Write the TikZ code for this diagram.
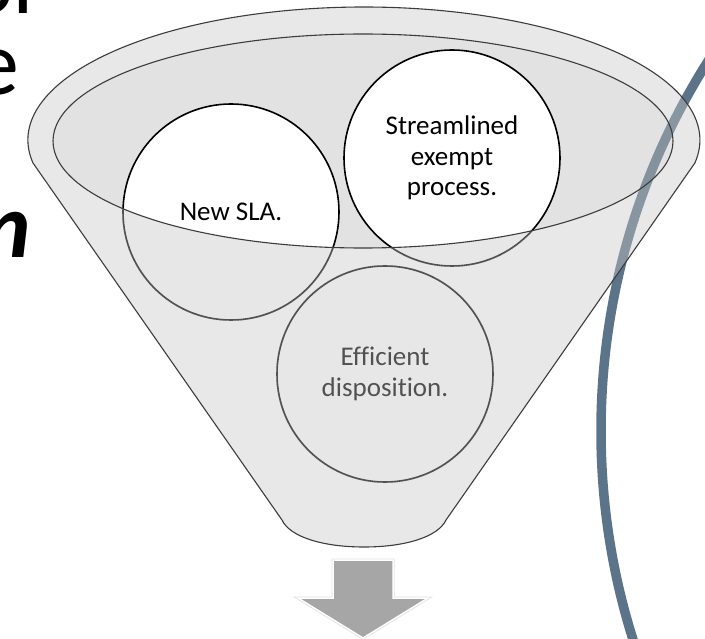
\documentclass[tikz,border=0pt]{standalone}
\usepackage{fontspec}
\setmainfont{Carlito}[Ligatures={NoCommon}]
\definecolor{arcblue}{RGB}{92,116,137}
\definecolor{funnelgray}{RGB}{199,199,199}
\definecolor{outlinegray}{RGB}{60,60,60}
\definecolor{arrowgray}{RGB}{166,166,166}
\begin{document}
\begin{tikzpicture}[x=1pt,y=-1pt,
  lip/.style={fill=funnelgray, fill opacity=0.41},
  funline/.style={draw=outlinegray, line width=1.1pt},
  bubble/.style={circle, minimum size=216pt, inner sep=0pt, draw=black, line width=1.6pt, fill=white,
                 align=center, font=\fontsize{27}{30.5}\selectfont},
  bigtext/.style={anchor=base east, inner sep=0pt, font=\fontsize{92}{92}\selectfont}]
\useasboundingbox (0,0) rectangle (705,639);
\clip (0,0) rectangle (705,639);

% background arc
\draw[arcblue, line width=9.5pt] (1293,431) circle (692);

% funnel body (translucent)
\fill[lip] (33,163) arc[start angle=170.04, end angle=369.96, x radius=336, y radius=133]
  -- (446,520) .. controls (438,537) and (405,547) .. (364,547)
  .. controls (323,547) and (290,537) .. (282,520) -- cycle;
% inner ellipse slightly darker
\fill[black, fill opacity=0.025] (363,141) ellipse [x radius=310, y radius=107];

% bubbles
\node[bubble] (c1) at (231,212) {New SLA.};
\node[bubble] (c2) at (452,158) {Streamlined\\exempt\\process.};
\node[bubble] (c3) at (385,374) {Efficient\\disposition.};

% front lip over bubbles
\foreach \cx/\cy in {231/212, 452/158, 385/374}{
  \begin{scope}
    \clip (\cx,\cy) circle (109);
    \fill[lip] (53,141) arc[start angle=180, end angle=0, x radius=310, y radius=107]
      -- (673,639) -- (53,639) -- cycle;
  \end{scope}
}

% outlines
\draw[funline] (33,163) arc[start angle=170.04, end angle=369.96, x radius=336, y radius=133]
  -- (446,520) .. controls (438,537) and (405,547) .. (364,547)
  .. controls (323,547) and (290,537) .. (282,520) -- cycle;
\draw[funline] (363,141) ellipse [x radius=310, y radius=107];

% arrow
\draw[draw=black!12, line width=3pt, line join=miter]
  (333,560) -- (393,560) -- (393,598) -- (428,598) -- (363,638) -- (298,598) -- (333,598) -- cycle;
\fill[arrowgray, draw=white, line width=1.5pt, line join=miter]
  (333,560) -- (393,560) -- (393,598) -- (428,598) -- (363,638) -- (298,598) -- (333,598) -- cycle;

% cut-off slide text at left
\node[bigtext] (t1) at (46,14) {or};
\node[bigtext] (t2) at (19,95) {e};
\node[bigtext, font=\fontsize{92}{92}\selectfont\bfseries\itshape] (t3) at (31,258) {n};
\end{tikzpicture}
\end{document}
